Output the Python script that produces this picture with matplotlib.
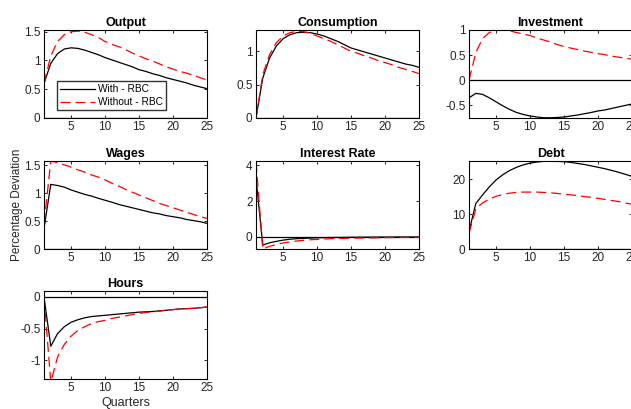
import matplotlib
matplotlib.use('Agg')
import matplotlib.pyplot as plt
import numpy as np

# impulse responses, quarters 1..25
quarters = list(range(1, 26))

output_with = [0.6, 0.95, 1.12, 1.2, 1.22, 1.21, 1.18, 1.14, 1.10, 1.05, 1.01, 0.97, 0.93, 0.89, 0.84,
               0.81, 0.77, 0.74, 0.70, 0.67, 0.64, 0.61, 0.57, 0.54, 0.51]
output_without = [0.6, 1.08, 1.33, 1.45, 1.5, 1.51, 1.49, 1.45, 1.40, 1.33, 1.28, 1.24, 1.19, 1.13, 1.08,
                  1.03, 0.99, 0.94, 0.89, 0.85, 0.81, 0.78, 0.74, 0.70, 0.66]

cons_with = [0.0, 0.6, 0.9, 1.08, 1.19, 1.25, 1.28, 1.285, 1.28, 1.26, 1.23, 1.19, 1.15, 1.10, 1.05,
             1.02, 0.99, 0.96, 0.93, 0.90, 0.87, 0.84, 0.81, 0.79, 0.76]
cons_without = [0.0, 0.65, 0.95, 1.13, 1.23, 1.28, 1.30, 1.295, 1.27, 1.23, 1.19, 1.15, 1.10, 1.05, 1.0,
                0.97, 0.93, 0.90, 0.86, 0.83, 0.80, 0.76, 0.73, 0.70, 0.665]

inv_with = [-0.35, -0.26, -0.28, -0.35, -0.43, -0.51, -0.58, -0.64, -0.68, -0.71, -0.73, -0.745, -0.745,
            -0.74, -0.73, -0.71, -0.69, -0.665, -0.64, -0.61, -0.59, -0.56, -0.53, -0.50, -0.47]
inv_without = [0.0, 0.55, 0.83, 0.95, 0.99, 1.0, 0.98, 0.95, 0.92, 0.89, 0.84, 0.80, 0.76, 0.71, 0.67,
               0.64, 0.61, 0.58, 0.555, 0.53, 0.51, 0.48, 0.46, 0.44, 0.42]

wages_with = [0.37, 1.16, 1.14, 1.11, 1.06, 1.02, 0.98, 0.95, 0.91, 0.875, 0.84, 0.80, 0.77, 0.74, 0.71,
              0.68, 0.65, 0.63, 0.60, 0.58, 0.56, 0.53, 0.51, 0.49, 0.46]
wages_without = [0.45, 1.58, 1.55, 1.51, 1.47, 1.42, 1.38, 1.33, 1.29, 1.24, 1.18, 1.13, 1.07, 1.02, 0.97,
                 0.92, 0.87, 0.82, 0.78, 0.74, 0.70, 0.66, 0.62, 0.58, 0.55]

rate_with = [3.3, -0.48, -0.35, -0.27, -0.2, -0.15, -0.12, -0.1, -0.085, -0.07, -0.06, -0.055, -0.05,
             -0.045, -0.04, -0.037, -0.034, -0.031, -0.029, -0.027, -0.025, -0.023, -0.022, -0.021, -0.02]
rate_without = [4.2, -0.7, -0.55, -0.45, -0.36, -0.3, -0.25, -0.21, -0.18, -0.16, -0.14, -0.12, -0.11,
                -0.1, -0.09, -0.085, -0.08, -0.075, -0.07, -0.06, -0.055, -0.05, -0.047, -0.044, -0.04]

debt_with = [5.0, 13.0, 15.5, 17.8, 19.8, 21.3, 22.5, 23.4, 24.1, 24.6, 24.9, 25.1, 25.2, 25.1, 25.0,
             24.8, 24.5, 24.2, 23.8, 23.4, 23.0, 22.5, 22.0, 21.4, 20.8]
debt_without = [4.5, 11.5, 13.2, 14.3, 15.1, 15.6, 16.0, 16.2, 16.3, 16.3, 16.3, 16.2, 16.1, 15.9, 15.7,
                15.5, 15.3, 15.0, 14.8, 14.5, 14.2, 13.9, 13.6, 13.2, 12.8]

hours_with = [0.0, -0.78, -0.58, -0.47, -0.40, -0.36, -0.33, -0.31, -0.30, -0.29, -0.28, -0.27, -0.26,
              -0.25, -0.24, -0.235, -0.23, -0.22, -0.21, -0.2, -0.19, -0.185, -0.18, -0.17, -0.16]
hours_without = [0.0, -1.35, -0.95, -0.75, -0.62, -0.53, -0.47, -0.42, -0.39, -0.37, -0.34, -0.32, -0.30,
                 -0.28, -0.26, -0.245, -0.235, -0.225, -0.21, -0.2, -0.19, -0.185, -0.18, -0.17, -0.16]

panels = [
    ("Output", output_with, output_without, (0, 1.53), [0, 0.5, 1, 1.5]),
    ("Consumption", cons_with, cons_without, (0, 1.32), [0, 0.5, 1]),
    ("Investment", inv_with, inv_without, (-0.75, 1.0), [-0.5, 0, 0.5, 1]),
    ("Wages", wages_with, wages_without, (0, 1.58), [0, 0.5, 1, 1.5]),
    ("Interest Rate", rate_with, rate_without, (-0.7, 4.25), [0, 2, 4]),
    ("Debt", debt_with, debt_without, (0, 25.2), [0, 10, 20]),
    ("Hours", hours_with, hours_without, (-1.3, 0.095), [-1, -0.5, 0]),
]

plt.rcParams['font.family'] = ['Liberation Sans', 'DejaVu Sans']
plt.rcParams['axes.unicode_minus'] = False

fig = plt.figure(figsize=(6.31, 4.09), dpi=100)

W, H = 631.0, 409.0
lefts = [44, 256, 469]
tops = [30, 161, 291]
aw, ah = 163, 88

gray = '#262626'
for i, (title, w, wo, ylim, yticks) in enumerate(panels):
    r, c = divmod(i, 3)
    ax = fig.add_axes([lefts[c] / W, 1 - (tops[r] + ah) / H, aw / W, ah / H])
    ax.axhline(0, color='k', lw=0.9)
    ax.plot(quarters, w, color='k', lw=0.9, label='With - RBC')
    ax.plot(quarters, wo, color='r', lw=0.9, ls=(0, (8, 4)), label='Without - RBC')
    ax.set_xlim(1, 25)
    ax.set_ylim(*ylim)
    ax.set_xticks([5, 10, 15, 20, 25])
    ax.set_yticks(yticks)
    ax.set_yticklabels([('%g' % v) for v in yticks])
    ax.tick_params(direction='in', top=True, right=True, length=2.5, width=0.6,
                   labelsize=8.5, labelcolor=gray, pad=2.5)
    for s in ax.spines.values():
        s.set_linewidth(0.8)
    ax.set_title(title, fontsize=9, fontweight='bold', pad=3)
    if title == "Output":
        ax.legend(loc='lower left', fontsize=7.3, frameon=True, fancybox=False,
                  edgecolor='k', handlelength=3.4, handletextpad=0.3, borderpad=0.3,
                  labelspacing=0.3, bbox_to_anchor=(0.05, 0.03))
    if title == "Wages":
        ax.set_ylabel("Percentage Deviation", fontsize=8.5, color=gray, labelpad=1)
    if title == "Hours":
        ax.set_xlabel("Quarters", fontsize=9, color=gray, labelpad=2)

fig.savefig('out.png', dpi=100)
